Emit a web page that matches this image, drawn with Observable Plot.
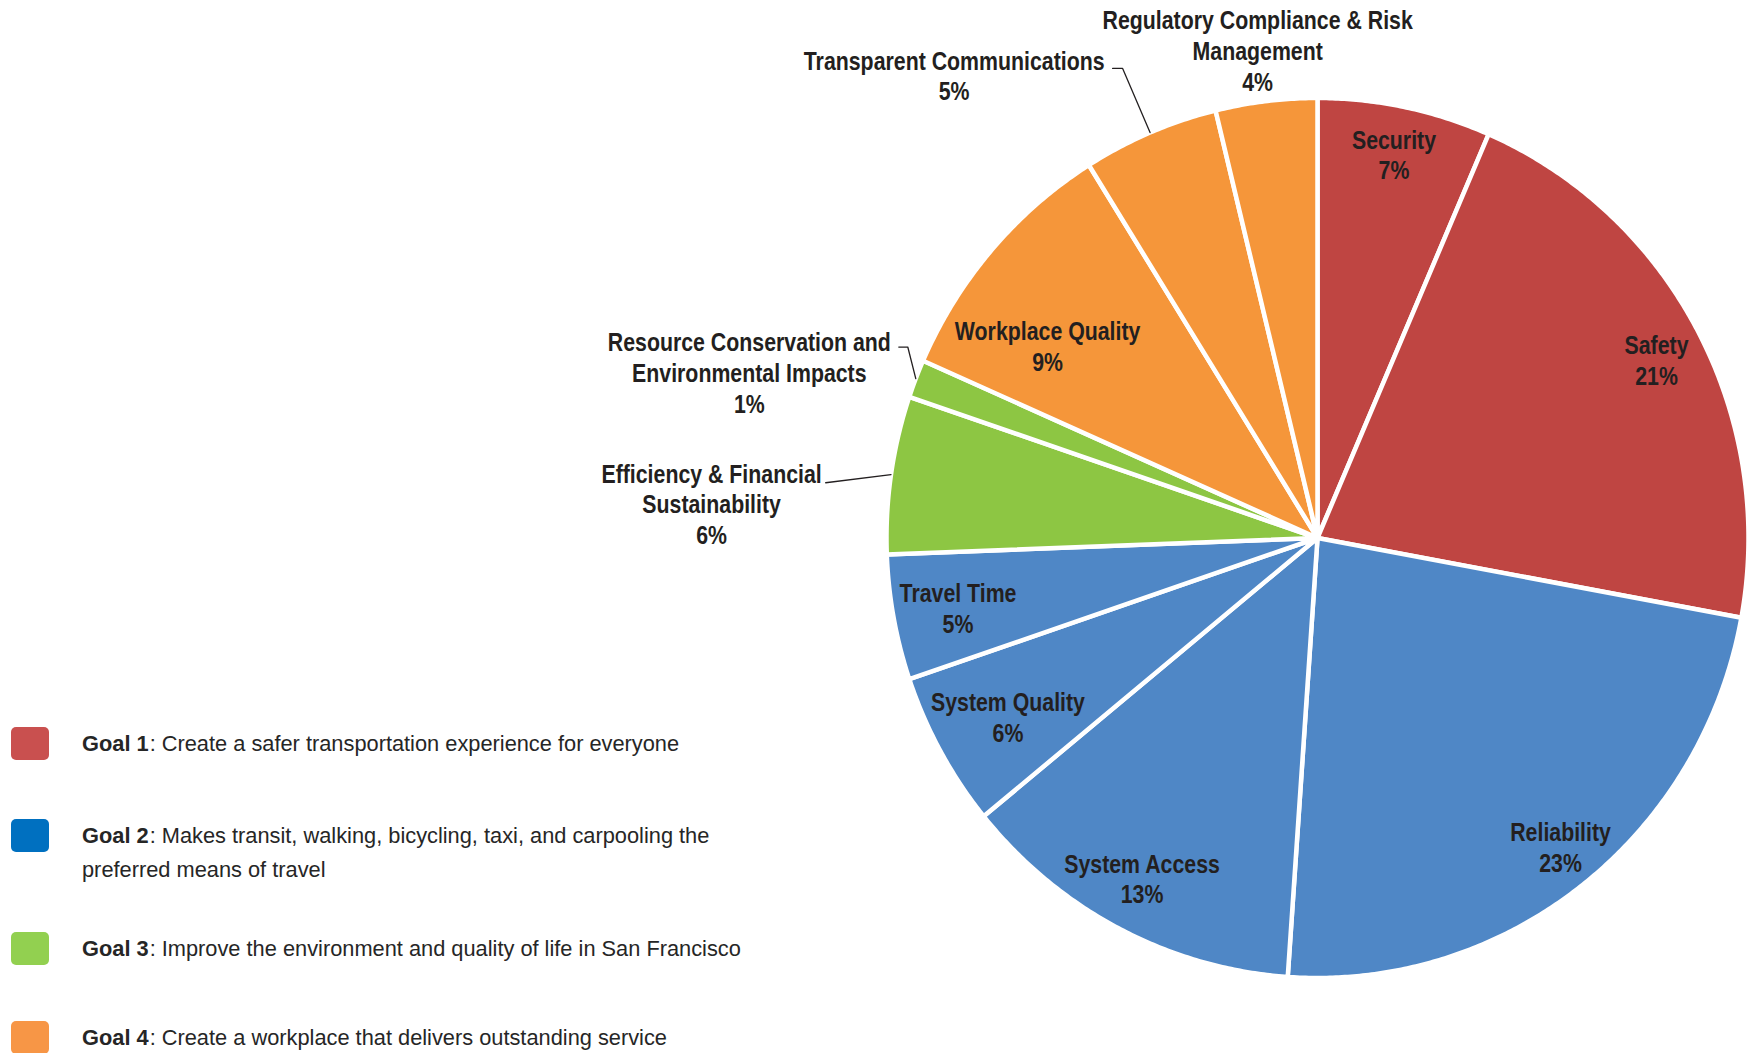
<!DOCTYPE html>
<html><head><meta charset="utf-8">
<script src="https://cdn.jsdelivr.net/npm/d3@7"></script>
<script src="https://cdn.jsdelivr.net/npm/@observablehq/plot@0.6"></script>
<style>
html,body{margin:0;padding:0;background:#fff;}
#wrap{position:relative;width:1760px;height:1053px;overflow:hidden;}
#legend{position:absolute;left:0;top:0;width:800px;height:1053px;font-family:"Liberation Sans",Arial,sans-serif;font-size:21.8px;color:#262626;}
.row{position:absolute;left:11px;display:flex;align-items:flex-start;}
.sw{width:38px;height:33px;border-radius:5px;flex:none;}
.txt{margin-left:33px;line-height:34px;margin-top:0px;white-space:pre;}
.txt b{font-weight:bold;}
.txt span{margin-left:1px;}
</style></head><body><div id="wrap"></div>
<script>
// ---- data ----
const names = ["Security","Safety","Reliability","System Access","System Quality","Travel Time",
  "Efficiency & Financial Sustainability","Resource Conservation and Environmental Impacts",
  "Workplace Quality","Transparent Communications","Regulatory Compliance & Risk Management"];
const labelText = ["Security","Safety","Reliability","System Access","System Quality","Travel Time",
  "Efficiency & Financial\nSustainability","Resource Conservation and\nEnvironmental Impacts",
  "Workplace Quality","Transparent Communications","Regulatory Compliance & Risk\nManagement"];
const shares = [6.5, 21.4, 23.2, 13.0, 5.7, 4.6, 5.8, 1.4, 9.5, 5.1, 3.8];
const percentLabels = ["7%","21%","23%","13%","6%","5%","6%","1%","9%","5%","4%"];
const goals = [1,1,2,2,2,2,3,3,4,4,4];
const goalNames = ["Goal 1","Goal 2","Goal 3","Goal 4"];
const goalTexts = [": Create a safer transportation experience for everyone",
  ": Makes transit, walking, bicycling, taxi, and carpooling the\npreferred means of travel",
  ": Improve the environment and quality of life in San Francisco",
  ": Create a workplace that delivers outstanding service"];

// ---- style / layout ----
const pieColors = ["#BF4542","#4F87C6","#8DC643","#F5963A"];
const legendColors = ["#C9504F","#0070C0","#92D050","#F79646"];
const W = 1760, H = 1053, CX = 1317, CY = 537.5, RX = 431, RY = 440;
const labelLayout = { // radial distance (radii) and angular nudge (deg) from slice mid-angle
  "Security":{r:0.89,turn:-0.2},
  "Safety":{r:0.885,turn:0.8},
  "Reliability":{r:0.90,turn:-1.0},
  "System Access":{r:0.874,turn:0.4},
  "System Quality":{r:0.825,turn:-0.5},
  "Travel Time":{r:0.849,turn:-0.3},
  "Efficiency & Financial Sustainability":{r:1.408,turn:-5.1},
  "Resource Conservation and Environmental Impacts":{r:1.371,turn:-5.3},
  "Workplace Quality":{r:0.764,turn:-5.9},
  "Transparent Communications":{r:1.348,turn:-15.85},
  "Regulatory Compliance & Risk Management":{r:1.117,turn:-0.3}
};
const leaderLayout = {
  "Efficiency & Financial Sustainability":{r:1.148,turn:-2.0,tail:0},
  "Resource Conservation and Environmental Impacts":{r:1.045,turn:3.3,tail:9},
  "Transparent Communications":{r:1.159,turn:-0.1,tail:10}
};
const rowTops = [727, 819, 932, 1021];

// ---- geometry ----
const rad = d => d * Math.PI / 180;
const polar = (r, a) => ({x: r * Math.sin(rad(a)), y: r * Math.cos(rad(a))});
const total = d3.sum(shares);
let acc = 0;
const slices = names.map((n, i) => {
  const a0 = acc / total * 360; acc += shares[i]; const a1 = acc / total * 360;
  return {name: n, i, a0, a1, mid: (a0 + a1) / 2, goal: goals[i]};
});
const slicePts = [];
for (const s of slices) {
  slicePts.push({name: s.name, goal: s.goal, x: 0, y: 0});
  const n = Math.max(2, Math.ceil((s.a1 - s.a0) / 0.4));
  for (let k = 0; k <= n; k++) {
    const p = polar(1, s.a0 + (s.a1 - s.a0) * k / n);
    slicePts.push({name: s.name, goal: s.goal, ...p});
  }
  slicePts.push({name: s.name, goal: s.goal, x: 0, y: 0});
}
const labels = slices.map(s => {
  const L = labelLayout[s.name];
  return {...polar(L.r, s.mid + L.turn), text: labelText[s.i] + "\n" + percentLabels[s.i]};
});
const leaderPts = [];
for (const s of slices) {
  const L = leaderLayout[s.name]; if (!L) continue;
  const e = polar(1, s.mid), m = polar(L.r, s.mid + L.turn);
  leaderPts.push({name: s.name, ...e}, {name: s.name, ...m});
  if (L.tail) leaderPts.push({name: s.name, x: m.x - L.tail / RX, y: m.y});
}

const chart = Plot.plot({
  width: W, height: H, margin: 0,
  x: {domain: [-CX / RX, (W - CX) / RX], axis: null},
  y: {domain: [-(H - CY) / RY, CY / RY], axis: null},
  color: {type: "ordinal", domain: [1,2,3,4], range: pieColors},
  style: {background: "white"},
  marks: [
    Plot.line(slicePts, {x: "x", y: "y", z: "name", fill: "goal", stroke: "white", strokeWidth: 4.5, strokeLinejoin: "round", curve: "linear"}),
    Plot.line(leaderPts, {x: "x", y: "y", z: "name", stroke: "#231f20", strokeWidth: 1.3}),
    Plot.text(labels, {x: "x", y: "y", text: "text", fontSize: 26, fontWeight: "bold",
      fontFamily: '"Liberation Sans",Arial,sans-serif',
      lineHeight: 1.18, fill: "#231f20", textAnchor: "middle", lineAnchor: "middle"})
  ]
});
// condensed face: compress label glyphs horizontally around their anchor
chart.querySelectorAll('g[aria-label="text"] text').forEach(t => {
  t.setAttribute("transform", (t.getAttribute("transform") || "") + " scale(0.82,1)");
});
const wrap = document.getElementById("wrap");
wrap.appendChild(chart);
const legend = document.createElement("div");
legend.id = "legend";
goalNames.forEach((g, i) => {
  const row = document.createElement("div");
  row.className = "row"; row.style.top = rowTops[i] + "px";
  const sw = document.createElement("div"); sw.className = "sw"; sw.style.background = legendColors[i];
  const t = document.createElement("div"); t.className = "txt";
  const b = document.createElement("b"); b.textContent = g;
  const rest = document.createElement("span"); rest.textContent = goalTexts[i];
  t.appendChild(b); t.appendChild(rest);
  row.appendChild(sw); row.appendChild(t); legend.appendChild(row);
});
wrap.appendChild(legend);
</script></body></html>
